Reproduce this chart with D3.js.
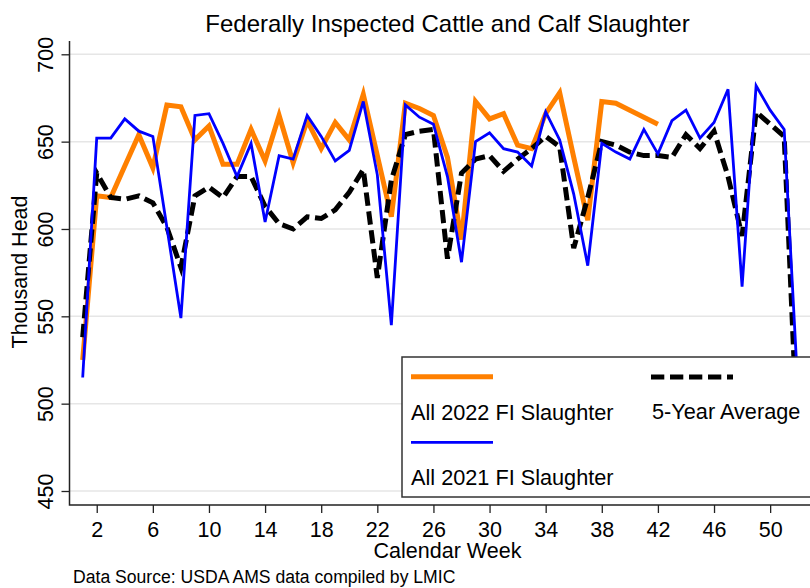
<!DOCTYPE html>
<html>
<head>
<meta charset="utf-8">
<script src="https://cdn.jsdelivr.net/npm/d3@7"></script>
<style>
  body { margin: 0; background: #fff; }
  svg { display: block; font-family: "Liberation Sans", Arial, sans-serif; }
</style>
</head>
<body>
<svg id="chart" width="810" height="588"></svg>
<script>
// weekly federally inspected slaughter, thousand head
const weeks = d3.range(1, 53);
const slaughter2022 = [525, 619, 618, 636, 654, 635, 671, 670, 651, 659,
    637, 637, 657, 639, 665, 638, 662, 646, 661, 651,
    677, 642, 607, 672, 669, 665, 641, 594, 673, 663,
    666, 648, 646, 666, 678, 641, 605, 673, 672, 668,
    664, 660];
const slaughter2021 = [515, 652, 652, 663, 656, 653, 601, 549, 665, 666,
    649, 630, 649, 604, 642, 640, 665, 653, 639, 645,
    673, 631, 545, 671, 664, 660, 630, 581, 650, 655,
    646, 644, 636, 667, 651, 620, 579, 649, 644, 640,
    657, 643, 662, 668, 652, 661, 680, 567, 682, 668,
    657, 505];
const fiveYearAvg = [538, 632, 618, 617, 619, 615, 601, 578, 619, 624,
    618, 630, 630, 613, 603, 600, 607, 606, 611, 621,
    634, 572, 628, 654, 656, 657, 583, 632, 640, 642,
    633, 640, 646, 653, 647, 589, 618, 650, 648, 644,
    642, 642, 641, 654, 646, 656, 630, 596, 667, 660,
    653, 470];
const yTicks = [450, 500, 550, 600, 650, 700];
const xTicks = d3.range(2, 51, 4);

const svg = d3.select("#chart");
const plotLeft = 69.5, plotRight = 826, plotTop = 41, plotBottom = 505;

const x = d3.scaleLinear().domain([1, 52]).range([82.7, 798.2]);
const y = d3.scaleLinear().domain([450, 700]).range([491, 54.3]);

// gridlines
svg.append("g")
    .selectAll("line")
    .data(yTicks)
    .enter()
    .append("line")
    .attr("x1", plotLeft)
    .attr("x2", plotRight)
    .attr("y1", d => y(d))
    .attr("y2", d => y(d))
    .attr("stroke", "#e6e6e6")
    .attr("stroke-width", 1.5);

const line = data => d3.line()
    .x((d, i) => x(weeks[i]))
    .y(d => y(d))(data);

svg.append("path")
    .attr("d", line(slaughter2022))
    .attr("fill", "none")
    .attr("stroke", "#ff8000")
    .attr("stroke-width", 5);

svg.append("path")
    .attr("d", line(fiveYearAvg))
    .attr("fill", "none")
    .attr("stroke", "#000")
    .attr("stroke-width", 5)
    .attr("stroke-dasharray", "13.3,5.7");

svg.append("path")
    .attr("d", line(slaughter2021))
    .attr("fill", "none")
    .attr("stroke", "#0000ff")
    .attr("stroke-width", 2.8);

// axes
const yAxis = svg.append("g")
    .attr("transform", `translate(${plotLeft},0)`)
    .call(d3.axisLeft(y).tickValues(yTicks).tickSize(8).tickSizeOuter(0));
yAxis.select(".domain").remove();
yAxis.selectAll("line").attr("stroke", "#222").attr("stroke-width", 1.3);
yAxis.selectAll("text")
    .attr("x", null)
    .attr("dy", null)
    .attr("transform", "translate(-16.5,0) rotate(-90)")
    .attr("text-anchor", "middle")
    .attr("fill", "#000")
    .style("font-size", "21.5px");

const xAxis = svg.append("g")
    .attr("transform", `translate(0,${plotBottom})`)
    .call(d3.axisBottom(x).tickValues(xTicks).tickSize(8).tickSizeOuter(0));
xAxis.select(".domain").remove();
xAxis.selectAll("line").attr("stroke", "#222").attr("stroke-width", 1.3);
xAxis.selectAll("text")
    .attr("y", 32)
    .attr("dy", null)
    .attr("fill", "#000")
    .style("font-size", "21.5px");

svg.append("path")
    .attr("d", `M${plotLeft},${plotTop}V${plotBottom}H${plotRight}`)
    .attr("fill", "none")
    .attr("stroke", "#222")
    .attr("stroke-width", 1.5);

// legend
const legend = svg.append("g");
legend.append("rect")
    .attr("x", 402).attr("y", 357)
    .attr("width", 430).attr("height", 140)
    .attr("fill", "#fff")
    .attr("stroke", "#333")
    .attr("stroke-width", 1.5);
legend.append("line")
    .attr("x1", 411).attr("x2", 493).attr("y1", 376.7).attr("y2", 376.7)
    .attr("stroke", "#ff8000").attr("stroke-width", 5);
legend.append("line")
    .attr("x1", 651).attr("x2", 733).attr("y1", 377).attr("y2", 377)
    .attr("stroke", "#000").attr("stroke-width", 5)
    .attr("stroke-dasharray", "13.3,5.7");
legend.append("line")
    .attr("x1", 411).attr("x2", 493).attr("y1", 442.3).attr("y2", 442.3)
    .attr("stroke", "#0000ff").attr("stroke-width", 2.8);
const legendText = [
    { label: "All 2022 FI Slaughter", x: 411, y: 420 },
    { label: "5-Year Average", x: 652, y: 419 },
    { label: "All 2021 FI Slaughter", x: 411, y: 485 }
];
legend.selectAll("text")
    .data(legendText)
    .enter()
    .append("text")
    .attr("x", d => d.x)
    .attr("y", d => d.y)
    .style("font-size", "21.7px")
    .text(d => d.label);

// titles
svg.append("text")
    .attr("x", 447.5).attr("y", 31.5)
    .attr("text-anchor", "middle")
    .style("font-size", "24px")
    .text("Federally Inspected Cattle and Calf Slaughter");

svg.append("text")
    .attr("x", 447.5).attr("y", 558.3)
    .attr("text-anchor", "middle")
    .style("font-size", "21.5px")
    .text("Calendar Week");

svg.append("text")
    .attr("transform", "translate(27,272) rotate(-90)")
    .attr("text-anchor", "middle")
    .style("font-size", "21.5px")
    .text("Thousand Head");

svg.append("text")
    .attr("x", 73).attr("y", 583)
    .style("font-size", "17.6px")
    .text("Data Source: USDA AMS data compiled by LMIC");
</script>
</body>
</html>
